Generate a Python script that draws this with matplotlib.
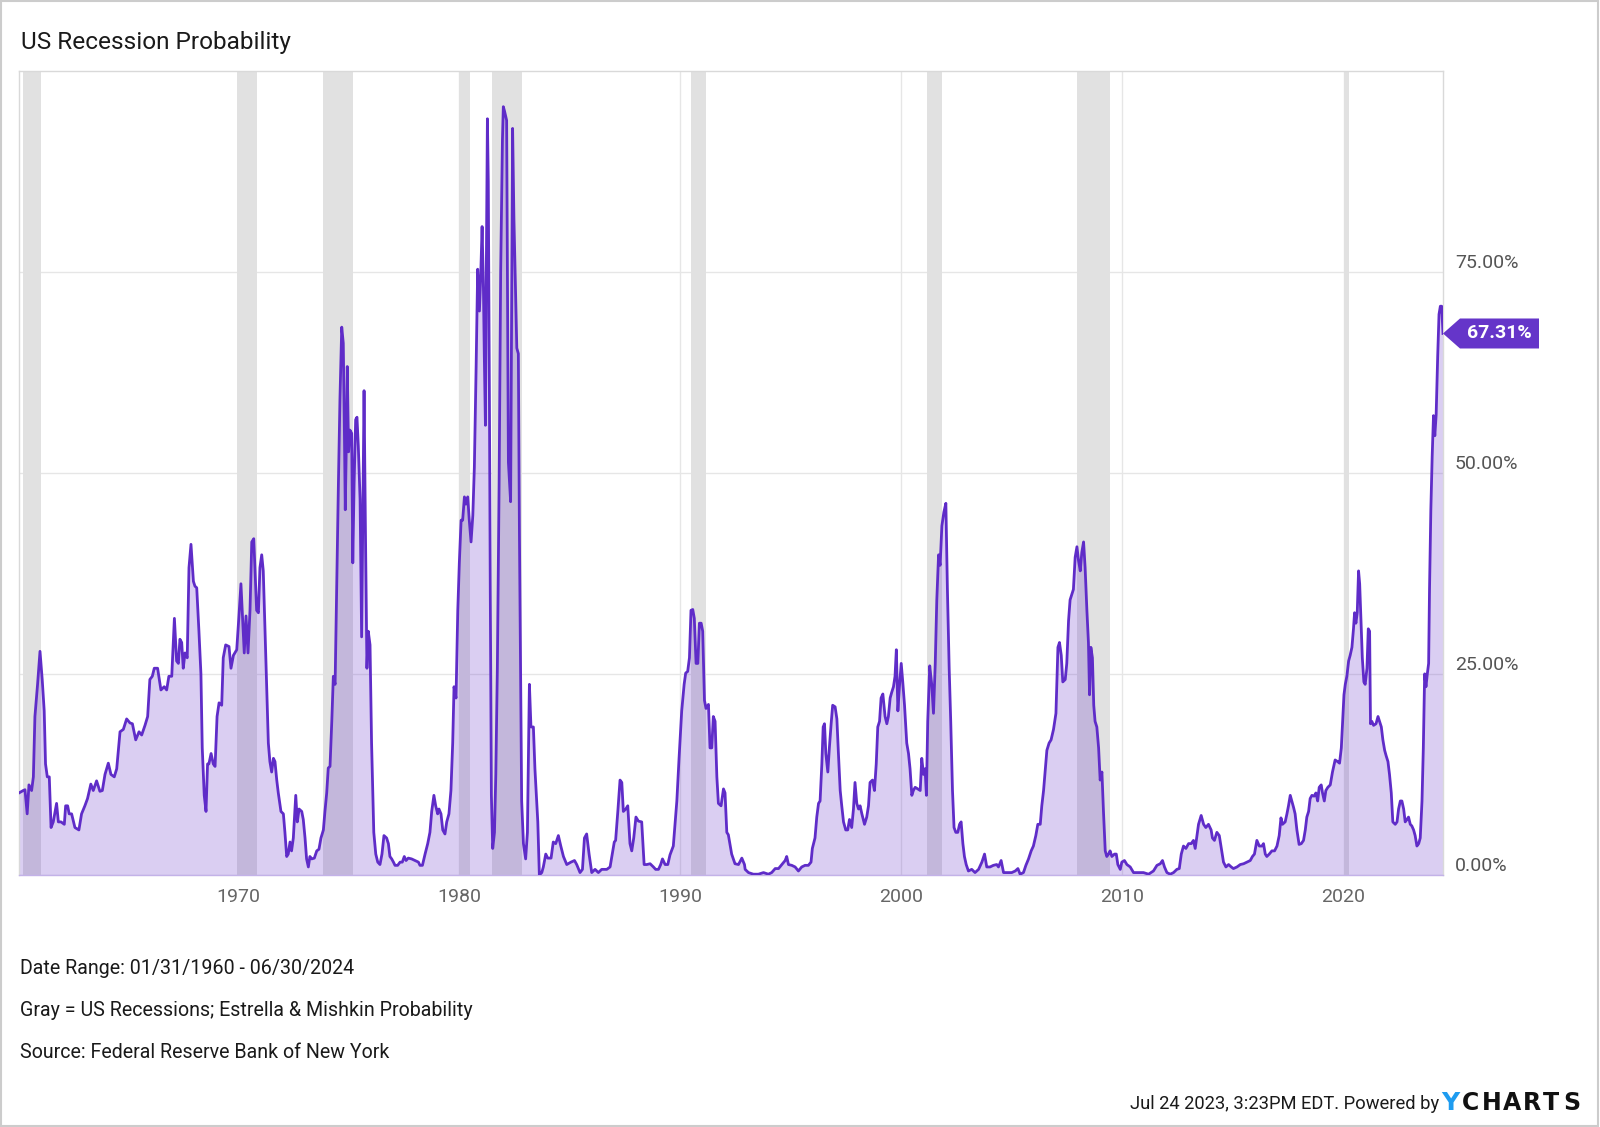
import matplotlib
matplotlib.use("Agg")
import matplotlib.pyplot as plt
import matplotlib.transforms as mtransforms
from matplotlib.patches import Polygon, Rectangle

plt.rcParams['font.family'] = ['Roboto', 'DejaVu Sans']

title = "US Recession Probability"

# ---- series (decimal year, percent) ----
dates_1960s = [
    1960.08, 1960.27, 1960.35, 1960.45, 1960.53, 1960.65, 1960.73, 1960.80, 1960.92, 1961.03,
    1961.13, 1961.22, 1961.28, 1961.36, 1961.45, 1961.53, 1961.63, 1961.78, 1961.86, 1961.98,
    1962.13, 1962.19, 1962.28, 1962.35, 1962.46, 1962.61, 1962.79, 1962.91, 1963.06, 1963.18,
    1963.33, 1963.44, 1963.59, 1963.74, 1963.85, 1963.97, 1964.12, 1964.24, 1964.39, 1964.50,
    1964.65, 1964.80, 1964.95, 1965.10, 1965.21, 1965.36, 1965.51, 1965.63, 1965.78, 1965.90,
    1966.00, 1966.11, 1966.20, 1966.35, 1966.50, 1966.65, 1966.76, 1966.86, 1966.99, 1967.11,
    1967.21, 1967.29, 1967.36, 1967.44, 1967.51, 1967.59, 1967.69, 1967.77, 1967.86, 1967.97,
    1968.04, 1968.12, 1968.22, 1968.31, 1968.37, 1968.46, 1968.54, 1968.61, 1968.67, 1968.77,
    1968.87, 1968.95, 1969.04, 1969.13, 1969.25, 1969.32, 1969.43, 1969.58, 1969.67, 1969.78,
    1969.93, 1970.03, 1970.12, 1970.20, 1970.27, 1970.35, 1970.44, 1970.53, 1970.61, 1970.70,
]
prob_1960s = [
    10.2, 10.5, 10.6, 7.6, 11.2, 10.5, 12.2, 19.7, 23.7, 27.8,
    24.3, 20.4, 13.8, 12.2, 12.2, 5.9, 6.6, 8.9, 6.6, 6.6,
    6.3, 8.6, 8.6, 7.6, 7.6, 5.9, 5.6, 7.6, 8.6, 9.5,
    11.3, 10.5, 11.7, 10.4, 10.5, 12.5, 13.9, 12.5, 12.2, 13.2,
    17.8, 18.1, 19.4, 18.9, 18.8, 16.8, 17.8, 17.4, 18.6, 19.7,
    24.3, 24.7, 25.7, 25.7, 23.0, 23.4, 23.0, 24.7, 24.7, 31.9,
    26.6, 26.3, 29.3, 28.9, 25.7, 27.6, 27.0, 38.2, 41.1, 36.5,
    35.9, 35.7, 30.3, 25.0, 15.8, 9.9, 7.9, 13.8, 13.8, 15.1,
    13.8, 13.5, 19.7, 21.4, 21.1, 27.0, 28.6, 28.4, 25.7, 27.3,
    28.0, 32.2, 36.2, 31.6, 27.6, 32.2, 27.6, 32.9, 41.4, 41.8,
]

dates_1970s = [
    1970.83, 1970.91, 1970.98, 1971.06, 1971.13, 1971.21, 1971.28, 1971.36, 1971.43, 1971.51,
    1971.59, 1971.66, 1971.74, 1971.81, 1971.93, 1972.04, 1972.11, 1972.19, 1972.26, 1972.34,
    1972.41, 1972.49, 1972.60, 1972.67, 1972.75, 1972.87, 1972.94, 1973.02, 1973.09, 1973.17,
    1973.24, 1973.32, 1973.44, 1973.55, 1973.65, 1973.74, 1973.85, 1973.92, 1974.00, 1974.07,
    1974.15, 1974.23, 1974.30, 1974.38, 1974.45, 1974.53, 1974.60, 1974.68, 1974.75, 1974.80,
    1974.84, 1974.89, 1974.93, 1974.99, 1975.05, 1975.13, 1975.18, 1975.24, 1975.31, 1975.37,
    1975.43, 1975.51, 1975.58, 1975.63, 1975.69, 1975.75, 1975.82, 1975.88, 1975.96, 1976.03,
    1976.13, 1976.22, 1976.31, 1976.41, 1976.50, 1976.59, 1976.71, 1976.79, 1976.86, 1976.94,
    1977.02, 1977.09, 1977.21, 1977.32, 1977.42, 1977.51, 1977.59, 1977.69, 1977.84, 1977.99,
    1978.15, 1978.22, 1978.33, 1978.45, 1978.57, 1978.67, 1978.75, 1978.85, 1978.93, 1979.02,
    1979.08, 1979.17, 1979.25, 1979.35, 1979.43, 1979.53, 1979.62, 1979.70, 1979.76, 1979.85,
    1979.93, 1980.00, 1980.08, 1980.15, 1980.23, 1980.30, 1980.38, 1980.45, 1980.53, 1980.61,
    1980.68, 1980.76, 1980.83, 1980.91, 1980.97, 1981.03, 1981.09, 1981.13, 1981.18, 1981.22,
    1981.27, 1981.31, 1981.36, 1981.40, 1981.45, 1981.51, 1981.59, 1981.65, 1981.72, 1981.80,
    1981.87, 1981.95,
]
prob_1970s = [
    32.9, 32.6, 38.2, 39.8, 37.8, 30.3, 23.7, 16.4, 14.1, 12.8,
    14.5, 14.1, 11.8, 10.2, 7.9, 7.6, 5.3, 2.3, 2.6, 4.1,
    3.0, 4.6, 9.9, 6.6, 8.2, 7.9, 6.9, 4.6, 2.0, 1.0,
    2.3, 2.0, 2.1, 3.0, 3.2, 4.6, 5.6, 7.9, 10.2, 13.3,
    13.5, 19.1, 24.7, 23.7, 35.5, 48.7, 59.2, 68.1, 66.1, 55.3,
    45.4, 53.9, 63.2, 52.6, 55.3, 54.9, 38.8, 48.7, 56.6, 56.9,
    53.3, 46.7, 29.6, 43.4, 60.2, 43.4, 25.7, 30.3, 28.6, 16.4,
    5.3, 2.6, 1.6, 1.3, 2.6, 4.9, 4.6, 3.9, 2.3, 2.0,
    1.6, 1.2, 1.2, 1.6, 1.6, 2.3, 1.8, 2.1, 2.0, 1.8,
    1.6, 1.2, 1.2, 2.6, 3.9, 5.3, 7.9, 9.9, 8.6, 7.6,
    8.2, 7.6, 5.6, 5.1, 6.6, 7.6, 10.5, 16.4, 23.4, 22.0,
    32.9, 38.8, 44.1, 44.1, 47.0, 46.1, 47.0, 44.1, 41.4, 44.7,
    50.7, 63.2, 75.3, 70.1, 74.7, 80.6, 73.0, 64.5, 55.9, 75.0,
    94.0, 86.2, 59.9, 35.5, 9.9, 3.3, 5.3, 12.5, 25.7, 48.7,
    75.0, 91.4,
]

dates_1980s = [
    1981.99, 1982.04, 1982.14, 1982.22, 1982.32, 1982.41, 1982.47, 1982.55, 1982.60, 1982.67,
    1982.72, 1982.78, 1982.82, 1982.90, 1983.00, 1983.08, 1983.17, 1983.24, 1983.35, 1983.42,
    1983.55, 1983.62, 1983.73, 1983.80, 1983.91, 1984.00, 1984.15, 1984.25, 1984.36, 1984.48,
    1984.59, 1984.71, 1984.86, 1985.05, 1985.21, 1985.31, 1985.46, 1985.57, 1985.66, 1985.76,
    1985.87, 1985.99, 1986.14, 1986.29, 1986.44, 1986.67, 1986.82, 1986.92, 1987.01, 1987.07,
    1987.17, 1987.27, 1987.35, 1987.42, 1987.53, 1987.62, 1987.72, 1987.80, 1987.89, 1987.99,
    1988.10, 1988.25, 1988.36, 1988.48, 1988.63, 1988.78, 1988.88, 1989.01, 1989.11, 1989.19,
    1989.31, 1989.43, 1989.53, 1989.68, 1989.84, 1989.94, 1990.06, 1990.17, 1990.24, 1990.33,
    1990.41, 1990.48, 1990.56, 1990.63, 1990.71, 1990.79, 1990.86, 1990.94, 1991.01, 1991.09,
    1991.16, 1991.27, 1991.34, 1991.42, 1991.49, 1991.57, 1991.65, 1991.72, 1991.84, 1991.95,
    1992.02, 1992.10, 1992.17, 1992.32, 1992.47, 1992.63, 1992.78, 1992.90,
]
prob_1980s = [
    95.5, 95.0, 93.8, 51.3, 46.4, 92.8, 81.6, 71.7, 65.5, 64.8,
    42.1, 22.4, 9.2, 3.9, 2.0, 5.3, 23.7, 18.4, 18.4, 13.2,
    6.6, 0.0, 0.3, 1.0, 2.6, 2.1, 2.1, 4.1, 3.9, 4.9,
    3.6, 2.3, 1.3, 1.6, 1.8, 1.3, 0.3, 0.7, 4.6, 5.1,
    2.6, 0.3, 0.7, 0.3, 0.7, 0.7, 1.0, 2.6, 4.1, 4.3,
    7.9, 11.8, 11.5, 7.9, 8.2, 8.6, 3.9, 3.0, 4.6, 7.2,
    6.7, 6.6, 1.3, 1.3, 1.4, 1.0, 0.7, 0.7, 1.3, 2.0,
    1.3, 1.3, 2.5, 3.6, 9.2, 14.5, 20.4, 23.7, 25.1, 25.3,
    27.0, 32.9, 33.0, 31.9, 26.3, 26.3, 31.3, 31.3, 30.3, 21.7,
    20.7, 21.2, 15.8, 15.8, 19.7, 19.1, 12.2, 8.9, 8.6, 10.7,
    10.2, 5.3, 5.0, 2.6, 1.4, 1.3, 2.1, 1.3,
]

dates_1990s = [
    1992.93, 1993.08, 1993.30, 1993.53, 1993.76, 1993.98, 1994.13, 1994.29, 1994.44, 1994.59,
    1994.74, 1994.81, 1994.89, 1995.04, 1995.19, 1995.34, 1995.49, 1995.64, 1995.79, 1995.91,
    1995.97, 1996.09, 1996.17, 1996.25, 1996.32, 1996.40, 1996.46, 1996.52, 1996.58, 1996.67,
    1996.74, 1996.82, 1996.89, 1997.00, 1997.08, 1997.15, 1997.23, 1997.30, 1997.38, 1997.48,
    1997.57, 1997.65, 1997.75, 1997.83, 1997.90, 1997.98, 1998.06, 1998.13, 1998.21, 1998.33,
    1998.43, 1998.51, 1998.58, 1998.69, 1998.78, 1998.86, 1998.93, 1999.01, 1999.08, 1999.16,
    1999.26, 1999.34, 1999.41, 1999.49, 1999.56, 1999.64, 1999.71, 1999.77, 1999.84, 1999.91,
    1999.99, 2000.06, 2000.14, 2000.24, 2000.32, 2000.39, 2000.47, 2000.54, 2000.62, 2000.74,
    2000.85, 2000.92, 2001.00, 2001.07, 2001.13, 2001.19, 2001.28, 2001.37, 2001.45, 2001.53,
    2001.60, 2001.68, 2001.75, 2001.83, 2001.92, 2002.01, 2002.08, 2002.16, 2002.23, 2002.31,
    2002.38, 2002.46, 2002.55, 2002.63, 2002.70, 2002.78, 2002.85, 2002.93, 2003.03, 2003.18,
    2003.33, 2003.49, 2003.64, 2003.76,
]
prob_1990s = [
    0.7, 0.3, 0.1, 0.1, 0.3, 0.1, 0.3, 0.8, 0.8, 1.3,
    1.8, 2.3, 1.3, 1.2, 1.0, 0.5, 1.0, 1.2, 1.2, 1.6,
    3.3, 4.6, 7.2, 8.9, 9.2, 13.8, 18.4, 18.8, 15.1, 12.8,
    15.8, 18.8, 21.1, 20.9, 19.4, 15.1, 10.5, 8.6, 6.6, 5.6,
    5.6, 6.9, 5.9, 8.2, 11.5, 8.9, 8.2, 8.6, 7.6, 6.3,
    7.2, 8.6, 11.5, 11.8, 10.5, 13.8, 18.4, 19.1, 22.0, 22.5,
    19.7, 18.8, 19.7, 22.0, 22.7, 23.4, 24.7, 28.0, 20.4, 23.4,
    26.3, 24.0, 21.1, 16.4, 15.1, 13.2, 9.9, 10.5, 10.9, 10.7,
    10.5, 14.5, 12.5, 13.2, 9.9, 19.1, 26.0, 23.7, 20.1, 26.3,
    34.2, 39.8, 38.5, 43.4, 45.1, 46.2, 35.5, 25.7, 19.1, 10.5,
    5.9, 5.3, 5.3, 6.3, 6.6, 3.9, 2.3, 1.3, 0.5, 0.7,
    0.3, 0.7, 1.6, 2.6,
]

dates_2000s = [
    2003.86, 2004.01, 2004.16, 2004.31, 2004.39, 2004.51, 2004.62, 2004.77, 2004.99, 2005.15,
    2005.27, 2005.37, 2005.52, 2005.63, 2005.75, 2005.87, 2005.97, 2006.08, 2006.17, 2006.28,
    2006.35, 2006.43, 2006.50, 2006.58, 2006.68, 2006.77, 2006.88, 2006.99, 2007.08, 2007.15,
    2007.23, 2007.30, 2007.41, 2007.48, 2007.56, 2007.63, 2007.71, 2007.78, 2007.86, 2007.94,
    2008.01, 2008.09, 2008.16, 2008.24, 2008.31, 2008.39, 2008.46, 2008.51, 2008.57, 2008.64,
    2008.70, 2008.76, 2008.84, 2008.92, 2008.99, 2009.07, 2009.14, 2009.22, 2009.29, 2009.37,
    2009.44, 2009.52, 2009.64, 2009.72, 2009.79, 2009.90, 2009.97, 2010.09, 2010.20, 2010.35,
    2010.50, 2010.73, 2010.95, 2011.18, 2011.40, 2011.56, 2011.71, 2011.81, 2011.90, 2012.01,
    2012.16, 2012.31, 2012.46, 2012.57, 2012.66, 2012.76, 2012.87, 2012.99, 2013.11, 2013.21,
    2013.29, 2013.37, 2013.44, 2013.56, 2013.67, 2013.77, 2013.89, 2014.01, 2014.07, 2014.16,
    2014.27, 2014.38, 2014.47, 2014.57,
]
prob_2000s = [
    1.0, 1.0, 1.2, 1.3, 1.0, 1.8, 0.3, 0.3, 0.3, 0.5,
    0.8, 0.1, 0.3, 1.2, 2.0, 3.0, 3.6, 4.9, 6.3, 6.3,
    8.6, 10.5, 12.8, 15.5, 16.4, 16.8, 18.1, 20.1, 28.3, 28.9,
    27.3, 24.0, 24.3, 26.3, 31.6, 34.2, 34.9, 35.5, 39.5, 40.8,
    39.1, 37.8, 40.1, 41.4, 38.2, 32.9, 28.9, 22.4, 28.3, 27.0,
    21.1, 19.1, 18.4, 15.8, 11.8, 12.8, 7.9, 3.0, 2.3, 2.6,
    3.0, 2.3, 2.6, 2.6, 1.3, 0.7, 1.6, 1.8, 1.3, 1.0,
    0.3, 0.3, 0.3, 0.1, 0.5, 1.2, 1.4, 1.8, 1.0, 0.3,
    0.1, 0.3, 0.7, 0.8, 2.6, 3.6, 3.3, 3.9, 3.9, 4.3,
    3.3, 4.9, 6.3, 7.4, 6.3, 5.9, 6.3, 5.6, 4.6, 4.3,
    5.3, 4.9, 3.3, 1.6,
]

dates_2010s = [
    2014.68, 2014.80, 2014.92, 2015.02, 2015.18, 2015.33, 2015.48, 2015.63, 2015.78, 2015.88,
    2015.97, 2016.08, 2016.19, 2016.31, 2016.38, 2016.46, 2016.53, 2016.64, 2016.76, 2016.88,
    2016.99, 2017.09, 2017.17, 2017.24, 2017.36, 2017.44, 2017.51, 2017.59, 2017.66, 2017.74,
    2017.81, 2017.89, 2017.99, 2018.09, 2018.19, 2018.27, 2018.34, 2018.42, 2018.49, 2018.57,
    2018.67, 2018.75, 2018.83, 2018.90, 2018.99, 2019.05, 2019.13, 2019.20, 2019.29, 2019.40,
    2019.50, 2019.62, 2019.73, 2019.82, 2019.90, 2019.96, 2020.02, 2020.08, 2020.15, 2020.23,
    2020.30, 2020.38, 2020.45, 2020.50, 2020.56, 2020.62, 2020.68, 2020.73, 2020.79, 2020.85,
    2020.92, 2020.98, 2021.06, 2021.12, 2021.18, 2021.22, 2021.28, 2021.36, 2021.47, 2021.56,
    2021.63, 2021.71, 2021.78, 2021.86, 2021.93, 2022.01, 2022.08, 2022.16, 2022.23, 2022.34,
    2022.42, 2022.49, 2022.57, 2022.64, 2022.72, 2022.79, 2022.87, 2022.94, 2023.02, 2023.09,
    2023.17, 2023.24, 2023.32, 2023.40, 2023.47, 2023.55, 2023.61, 2023.67, 2023.73, 2023.79,
    2023.85, 2023.89, 2023.95, 2024.01, 2024.07, 2024.13, 2024.19, 2024.26, 2024.32, 2024.38,
    2024.44, 2024.50,
]
prob_2010s = [
    1.0, 1.3, 1.0, 0.8, 1.0, 1.3, 1.4, 1.6, 1.8, 2.3,
    2.6, 4.3, 3.6, 3.6, 3.9, 2.6, 2.3, 2.6, 3.0, 3.0,
    3.6, 4.9, 7.1, 6.3, 6.6, 7.6, 8.6, 9.9, 9.2, 8.4,
    7.6, 5.6, 3.8, 3.9, 4.3, 5.6, 7.2, 7.9, 9.5, 9.9,
    9.8, 10.2, 9.2, 10.9, 11.2, 10.2, 9.2, 10.5, 10.9, 11.2,
    12.8, 14.3, 14.1, 13.9, 15.8, 19.1, 22.4, 23.7, 24.7, 26.6,
    27.3, 28.3, 30.6, 32.6, 31.3, 32.6, 37.8, 36.2, 31.6, 27.0,
    24.0, 23.7, 25.7, 30.6, 30.3, 18.8, 19.1, 18.6, 18.8, 19.7,
    19.1, 18.4, 16.8, 15.5, 14.8, 14.1, 12.5, 10.2, 6.6, 6.3,
    6.6, 8.2, 9.2, 9.2, 8.2, 6.6, 6.9, 7.2, 6.3, 6.1,
    5.6, 4.9, 3.6, 3.9, 4.6, 9.2, 15.8, 25.0, 23.4, 25.0,
    26.3, 35.5, 45.4, 52.0, 57.1, 54.6, 57.2, 64.5, 69.7, 70.7,
    70.7, 67.31,
]

recession_start = [1960.25, 1969.92, 1973.83, 1980.00, 1981.50, 1990.50, 2001.17, 2007.92, 2020.00]
recession_end = [1961.08, 1970.83, 1975.17, 1980.50, 1982.83, 1991.17, 2001.83, 2009.42, 2020.25]

x_ticks = [1970, 1980, 1990, 2000, 2010, 2020]
x_tick_labels = ["1970", "1980", "1990", "2000", "2010", "2020"]
y_ticks = [0, 25, 50, 75]
y_tick_labels = ["0.00%", "25.00%", "50.00%", "75.00%"]
last_value_label = "67.31%"

footer_lines = [
    "Date Range: 01/31/1960 - 06/30/2024",
    "Gray = US Recessions; Estrella & Mishkin Probability",
    "Source: Federal Reserve Bank of New York",
]
timestamp_text = "Jul 24 2023, 3:23PM EDT. Powered by"

dates = dates_1960s + dates_1970s + dates_1980s + dates_1990s + dates_2000s + dates_2010s
probability = prob_1960s + prob_1970s + prob_1980s + prob_1990s + prob_2000s + prob_2010s
assert len(dates) == len(probability)

# ---- figure ----
W, H = 1600, 1127
fig = plt.figure(figsize=(W / 100, H / 100), dpi=100)
fig.patch.set_facecolor("white")

ax_left, ax_right, ax_top, ax_bottom = 19, 1443, 70.5, 875
ax = fig.add_axes([ax_left / W, 1 - ax_bottom / H, (ax_right - ax_left) / W, (ax_bottom - ax_top) / H])
ax.set_xlim(1960.08, 2024.5)
ax.set_ylim(0, 100)

line_color = "#5f2cc8"
for s, e in zip(recession_start, recession_end):
    ax.axvspan(s, e, color="#e1e1e1", lw=0, zorder=1)

ax.fill_between(dates, probability, 0, color="#6633cc", alpha=0.24, lw=0, zorder=2)
ax.plot(dates, probability, color=line_color, lw=2.0, zorder=3, solid_joinstyle="round")

ax.set_xticks(x_ticks)
ax.set_xticklabels(x_tick_labels)
ax.set_yticks(y_ticks)
ax.set_yticklabels([])
ax.set_axisbelow(True)
ax.grid(True, color="#e6e6e6", lw=1)
ax.tick_params(axis="both", length=0)
ax.tick_params(axis="x", labelsize=14, labelcolor="#666666", pad=9)

for side in ["top", "left", "right"]:
    ax.spines[side].set_color("#d9d9d9")
    ax.spines[side].set_linewidth(1)
ax.spines["bottom"].set_color("#c3b2e8")
ax.spines["bottom"].set_linewidth(1)

# right-side value labels
ylab_trans = mtransforms.blended_transform_factory(ax.transAxes, ax.transData) + \
    mtransforms.ScaledTranslation(12 / 100, 9 / 100, fig.dpi_scale_trans)
for v, lab in zip(y_ticks, y_tick_labels):
    ax.text(1.0, v, lab, transform=ylab_trans, ha="left", va="center",
            fontsize=14, color="#555555", clip_on=False)

# last-value tag
anchor = mtransforms.ScaledTranslation(dates[-1], probability[-1], ax.transData)
tag_trans = fig.dpi_scale_trans + anchor
tip, base, right, half = 0.0, 0.17, 0.96, 0.15
tag = Polygon([(tip, 0), (base, half), (right, half), (right, -half), (base, -half)],
              closed=True, transform=tag_trans, facecolor="#6535c9", edgecolor="none",
              clip_on=False, zorder=5)
ax.add_patch(tag)
ax.text((base + right) / 2, 0, last_value_label, transform=tag_trans,
        ha="center", va="center", fontsize=14, fontweight="bold", color="white", zorder=6, clip_on=False)

# title
fig.text(21 / W, 1 - 43 / H, title, ha="left", va="center", fontsize=17.6, color="#1a1a1a")

# footers
for i, line in enumerate(footer_lines):
    fig.text(20 / W, 1 - (969 + 41.5 * i) / H, line, ha="left", va="center", fontsize=14.1, color="#1a1a1a")

fig.text(1439 / W, 1 - 1104 / H, timestamp_text, ha="right", va="center", fontsize=13.25, color="#1a1a1a")
fig.text(1441 / W, 1 - 1103 / H, "Y", ha="left", va="center", fontsize=18, fontweight="bold",
         color="#1e9cf0", family=["DejaVu Sans"])
logo_letters = "CHARTS"
for i, ch in enumerate(logo_letters):
    fig.text((1462 + 20.2 * i) / W, 1 - 1103 / H, ch, ha="left", va="center", fontsize=17,
             fontweight="bold", color="#111111", family=["DejaVu Sans"])

# outer frame
fig.add_artist(Rectangle((0.0005, 0.0008), 0.998, 0.998, transform=fig.transFigure, fill=False,
                         edgecolor="#cccccc", lw=1.5))

fig.savefig("out.png", dpi=100)
